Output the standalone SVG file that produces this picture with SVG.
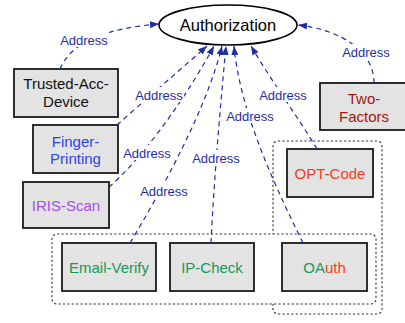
<svg xmlns="http://www.w3.org/2000/svg" width="405" height="323" viewBox="0 0 405 323">
<style>
text{font-family:"Liberation Sans",Arial,Helvetica,sans-serif;}
.box{fill:#e3e3e3;stroke:#1a1a1a;stroke-width:1.8;}
.grp{fill:#ffffff;stroke:#333;stroke-width:1.1;stroke-dasharray:2.2,2.2;}
.nt{font-size:15px;text-anchor:middle;}
.edge{fill:none;stroke:#1f2fa3;stroke-width:1.2;stroke-dasharray:5,4;marker-end:url(#ah);}
.lbl{font-size:13px;fill:#1f2fa3;text-anchor:middle;}
.lbg{fill:#ffffff;}
</style>
<defs>
<marker id="ah" markerUnits="userSpaceOnUse" markerWidth="9" markerHeight="7" refX="9" refY="3.5" orient="auto">
<path d="M0,0 L9,3.5 L0,7 z" fill="#1f2fa3"/>
</marker>
</defs>
<rect width="405" height="323" fill="#ffffff"/>
<g id="groups">
<rect class="grp" x="273" y="141" width="109" height="173" rx="5"/>
<rect class="grp" x="52" y="234" width="324" height="70" rx="5"/>
</g>
<g id="authorization">
<ellipse cx="228" cy="25" rx="69" ry="20" fill="#fff" stroke="#000" stroke-width="1.6"/>
<text class="nt" x="228" y="31" style="font-size:16.5px" fill="#000">Authorization</text>
</g>
<g id="trusted-acc-device">
<rect class="box" x="14" y="69" width="104" height="48"/>
<text class="nt" x="66" y="89" fill="#111">Trusted-Acc-</text>
<text class="nt" x="66" y="107" fill="#111">Device</text>
</g>
<g id="finger-printing">
<rect class="box" x="33" y="125" width="85" height="48"/>
<text class="nt" x="75.5" y="146.5" fill="#2a45f0">Finger-</text>
<text class="nt" x="75.5" y="164" fill="#2a45f0">Printing</text>
</g>
<g id="iris-scan">
<rect class="box" x="23" y="182" width="86" height="46"/>
<text class="nt" x="66" y="210.5" fill="#a24cf5">IRIS-Scan</text>
</g>
<g id="two-factors">
<rect class="box" x="320" y="83" width="88" height="47"/>
<text class="nt" x="364" y="104" fill="#a3170f">Two-</text>
<text class="nt" x="364" y="121.5" fill="#a3170f">Factors</text>
</g>
<g id="opt-code">
<rect class="box" x="287" y="149" width="86" height="48"/>
<text class="nt" x="330" y="179" fill="#fa3a1c">OPT-Code</text>
</g>
<g id="email-verify">
<rect class="box" x="62" y="243" width="94" height="48"/>
<text class="nt" x="109" y="272.5" fill="#17985a">Email-Verify</text>
</g>
<g id="ip-check">
<rect class="box" x="170" y="243" width="84" height="48"/>
<text class="nt" x="212" y="272.5" fill="#17985a">IP-Check</text>
</g>
<g id="oauth">
<rect class="box" x="282" y="243" width="85" height="48"/>
<text class="nt" x="324.5" y="272.5"><tspan fill="#17985a">OA</tspan><tspan fill="#fa3a1c">uth</tspan></text>
</g>
<g id="connectors">
<path class="edge" d="M60,69 C72,40 110,28 159,24"/>
<path class="edge" d="M374,83 C374,50 340,30 298,25"/>
<path class="edge" d="M117,125 C145,100 180,70 207,46"/>
<path class="edge" d="M109,187 C135,165 178,112 214,46"/>
<path class="edge" d="M130,243 C157,198 206,112 222,46"/>
<path class="edge" d="M211,243 C214,180 220,110 226,46"/>
<path class="edge" d="M303,243 C272,180 240,110 234,46"/>
<path class="edge" d="M317,149 C300,120 272,82 251,46"/>
<rect class="lbg" x="59" y="32" width="50" height="15"/>
<text class="lbl" x="84" y="44.5">Address</text>
<rect class="lbg" x="341" y="44" width="50" height="15"/>
<text class="lbl" x="366" y="56.5">Address</text>
<rect class="lbg" x="134" y="87" width="50" height="15"/>
<text class="lbl" x="159" y="99.5">Address</text>
<rect class="lbg" x="258" y="87" width="50" height="15"/>
<text class="lbl" x="283" y="99.5">Address</text>
<rect class="lbg" x="225" y="108" width="50" height="15"/>
<text class="lbl" x="250" y="120.5">Address</text>
<rect class="lbg" x="122" y="145" width="50" height="15"/>
<text class="lbl" x="147" y="157.5">Address</text>
<rect class="lbg" x="191" y="150" width="50" height="15"/>
<text class="lbl" x="216" y="162.5">Address</text>
<rect class="lbg" x="139" y="183" width="50" height="15"/>
<text class="lbl" x="164" y="195.5">Address</text>
</g>
</svg>
